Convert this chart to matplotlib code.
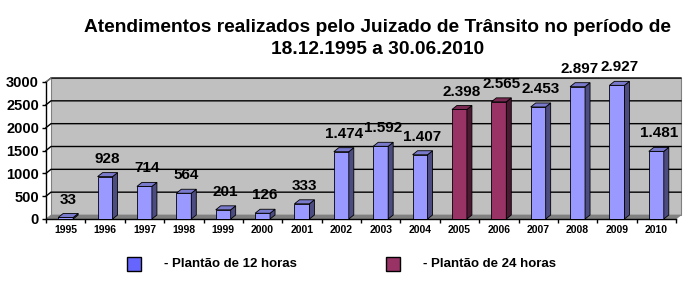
import matplotlib.pyplot as plt
from matplotlib.patches import Polygon, Rectangle

plt.rcParams['font.family'] = ['Liberation Sans', 'DejaVu Sans']
plt.rcParams['font.weight'] = 'bold'

# Data
years = ['1995', '1996', '1997', '1998', '1999', '2000', '2001', '2002',
         '2003', '2004', '2005', '2006', '2007', '2008', '2009', '2010']
atendimentos = [33, 928, 714, 564, 201, 126, 333, 1474,
                1592, 1407, 2398, 2565, 2453, 2897, 2927, 1481]
plantao_24h = ['2005', '2006']
yticks = [0, 500, 1000, 1500, 2000, 2500, 3000]
title_l1 = 'Atendimentos realizados pelo Juizado de Trânsito no período de'
title_l2 = '18.12.1995 a 30.06.2010'
legend_labels = ['- Plantão de 12 horas', '- Plantão de 24 horas']


def fmt(v):
    return '{:,}'.format(v).replace(',', '.')


# colours: front, top, side
blue = ('#9999FF', '#7A7ACC', '#4C4C80')
wine = ('#993366', '#7A2952', '#4C1933')

fig = plt.figure(figsize=(6.89, 2.84), dpi=100)
ax = fig.add_axes([46 / 689, 65 / 284, 630 / 689, 137 / 284])
ax.set_xlim(-0.5, len(years) - 0.5)
ax.set_ylim(0, 3000)

# depth of the 3d effect in data units (about 5 px right, 4 px up)
dx = 5 / 39.4
dy = 4 / 137 * 3000
x0, x1 = -0.5, len(years) - 0.5

# back wall
wall = Polygon([(x0 + dx, dy), (x1 + dx, dy), (x1 + dx, 3000 + dy), (x0 + dx, 3000 + dy)],
               closed=True, facecolor='#C0C0C0', edgecolor='#808080', lw=0.8,
               clip_on=False, zorder=0)
ax.add_patch(wall)
# floor
floor = Polygon([(x0, 0), (x1, 0), (x1 + dx, dy), (x0 + dx, dy)], closed=True,
                facecolor='#808080', edgecolor='#808080', lw=0.5, clip_on=False, zorder=1)
ax.add_patch(floor)
# gridlines on the wall
for v in yticks[1:]:
    ax.plot([x0, x0 + dx, x1 + dx], [v, v + dy, v + dy], color='black', lw=1,
            clip_on=False, zorder=1)
ax.plot([x0, x0 + dx], [3000, 3000 + dy], color='#808080', lw=0.8, clip_on=False, zorder=1)

w = 0.38
for i, (yr, v) in enumerate(zip(years, atendimentos)):
    front, top, side = wine if yr in plantao_24h else blue
    ax.bar(i, v, width=w, color=front, edgecolor='black', lw=0.6, zorder=3)
    r = i + w / 2
    l = i - w / 2
    ax.add_patch(Polygon([(r, 0), (r + dx, dy), (r + dx, v + dy), (r, v)], closed=True,
                         facecolor=side, edgecolor='black', lw=0.6, zorder=3, clip_on=False))
    ax.add_patch(Polygon([(l, v), (r, v), (r + dx, v + dy), (l + dx, v + dy)], closed=True,
                         facecolor=top, edgecolor='black', lw=0.6, zorder=3, clip_on=False))
    ax.annotate(fmt(v), (i + dx / 2, v + dy), xytext=(0, 5), textcoords='offset points',
                ha='center', va='bottom', fontsize=11, fontweight='bold',
                annotation_clip=False)

for s in ['top', 'right']:
    ax.spines[s].set_visible(False)
ax.spines['left'].set_linewidth(1)
ax.spines['bottom'].set_linewidth(1)
ax.set_facecolor('none')
ax.set_yticks(yticks)
ax.set_yticklabels([str(t) for t in yticks], fontsize=10.5, fontweight='bold')
ax.set_xticks(range(len(years)))
ax.set_xticklabels(years, fontsize=7.5, fontweight='bold')
ax.set_xticks([k - 0.5 for k in range(len(years) + 1)], minor=True)
ax.tick_params(axis='x', which='major', length=0, pad=4)
ax.tick_params(axis='x', which='minor', length=3, width=1)
ax.tick_params(axis='y', length=3, width=1, pad=2)

fig.text(378 / 689, 1 - 27 / 284, title_l1, ha='center', va='center',
         fontsize=13.8, fontweight='bold')
fig.text(378 / 689, 1 - 50 / 284, title_l2, ha='center', va='center',
         fontsize=13.8, fontweight='bold')

# legend
for (sx, tx), lab, col in zip([(127, 164), (386, 423)], legend_labels, ['#6666FF', '#993366']):
    fig.patches.append(Rectangle((sx / 689, 1 - 271 / 284), 14 / 689, 14 / 284,
                                 transform=fig.transFigure, facecolor=col,
                                 edgecolor='black', lw=1))
    fig.text(tx / 689, 1 - 264 / 284, lab, ha='left', va='center',
             fontsize=9.5, fontweight='bold')

fig.savefig('out.png', dpi=100)
